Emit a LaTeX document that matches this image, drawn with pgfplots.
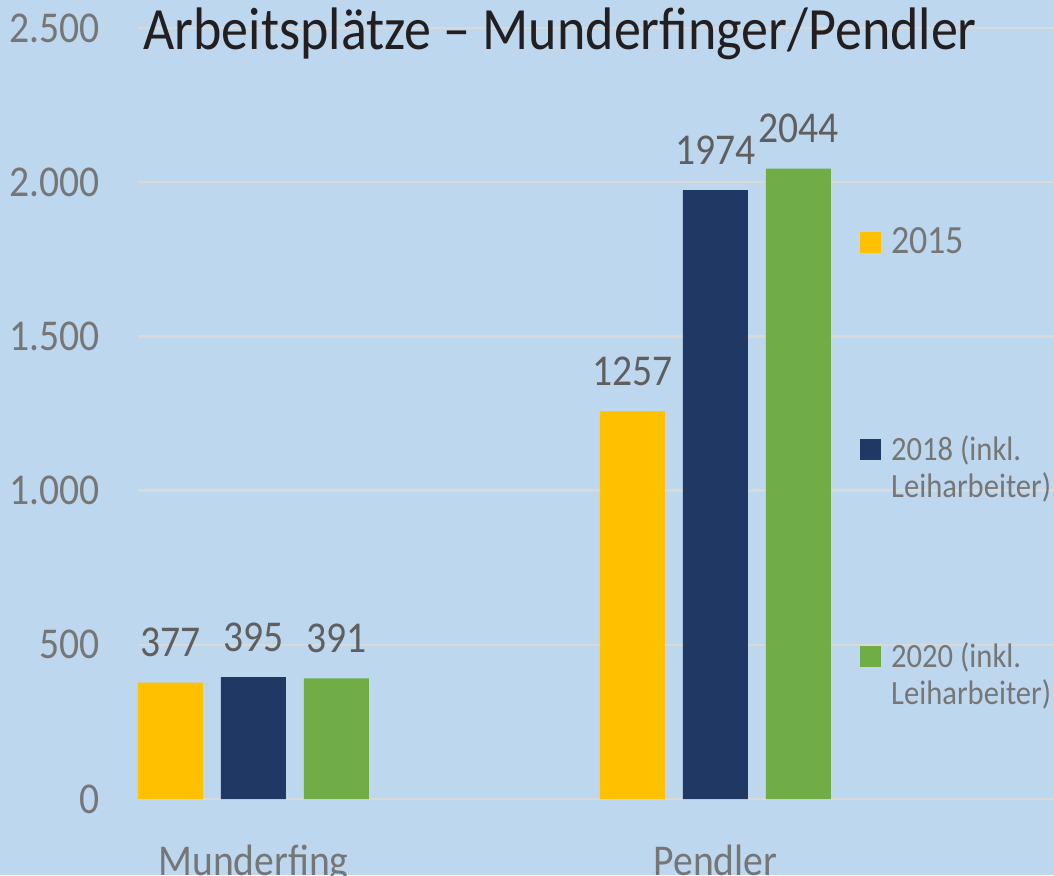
\documentclass[border=0pt]{standalone}
\usepackage{fontspec}
\setmainfont{Carlito}[FakeStretch=0.9]
\usepackage{pgfplots}
\pgfplotsset{compat=1.18}
\definecolor{bgblue}{HTML}{BDD7EE}
\definecolor{gridc}{HTML}{D9D9D9}
\definecolor{cyel}{HTML}{FFC000}
\definecolor{cnavy}{HTML}{203864}
\definecolor{cgreen}{HTML}{70AD47}
\definecolor{tickgray}{HTML}{767676}
\definecolor{labgray}{HTML}{5F5F5F}
\definecolor{titlec}{HTML}{231F20}
\begin{document}
\begin{tikzpicture}
\path[use as bounding box, fill=bgblue] (-69pt,-38pt) rectangle (458pt,399.5pt);
\begin{axis}[
  at={(0pt,0pt)}, anchor=south west,
  scale only axis, width=458pt, height=385.5pt,
  xmin=-0.25, xmax=1.733, ymin=0, ymax=2500,
  ybar=9pt, bar width=32.5pt,
  axis line style={draw=none},
  tick style={draw=none},
  ymajorgrids, grid style={gridc, line width=1.2pt},
  ytick={0,500,1000,1500,2000,2500},
  yticklabels={0,500,1.000,1.500,2.000,2.500},
  xtick={0,1}, xticklabels={Munderfing,Pendler},
  ticklabel style={font=\fontsize{22}{24}\selectfont, text=tickgray},
  yticklabel style={anchor=east, inner sep=0pt, xshift=-19pt},
  xticklabel style={anchor=base, inner sep=0pt, yshift=-34pt},
  /pgf/number format/assume math mode=true,
  /pgf/number format/1000 sep={},
  nodes near coords,
  every node near coord/.append style={anchor=base, yshift=13pt, font=\fontsize{22}{24}\selectfont, text=labgray, inner sep=0pt},
  clip=false,
  title={Arbeitsplätze – Munderfinger/Pendler},
  title style={at={(0,1)}, anchor=base west, xshift=2.5pt, yshift=-16.5pt, inner sep=0pt, font=\fontsize{30}{33}\selectfont, text=titlec},
  legend image code/.code={\fill[#1] (0pt,0pt) rectangle (10.5pt,10.5pt);},
  legend style={at={(0.788,0.7445)}, anchor=north west, draw=none, fill=none,
    inner sep=0pt, row sep=0pt, column sep=5pt,
    nodes={inner sep=0pt, text depth={}, text=tickgray},
    cells={anchor=base west}},
]
\addplot[fill=cyel, draw=none] coordinates {(0,377) (1,1257)};
\addplot[fill=cnavy, draw=none] coordinates {(0,395) (1,1974)};
\addplot[fill=cgreen, draw=none] coordinates {(0,391) (1,2044)};
\addlegendentry{\fontsize{20}{21}\selectfont\rule[-89.5pt]{0pt}{103.5pt}2015}
\addlegendentry{\fontsize{17}{18.5}\selectfont\rule[-89.5pt]{0pt}{103.5pt}\begin{tabular}[t]{@{}l@{}}2018 (inkl.\\Leiharbeiter)\end{tabular}}
\addlegendentry{\fontsize{17}{18.5}\selectfont\rule[-89.5pt]{0pt}{103.5pt}\begin{tabular}[t]{@{}l@{}}2020 (inkl.\\Leiharbeiter)\end{tabular}}
\end{axis}
\end{tikzpicture}
\end{document}
